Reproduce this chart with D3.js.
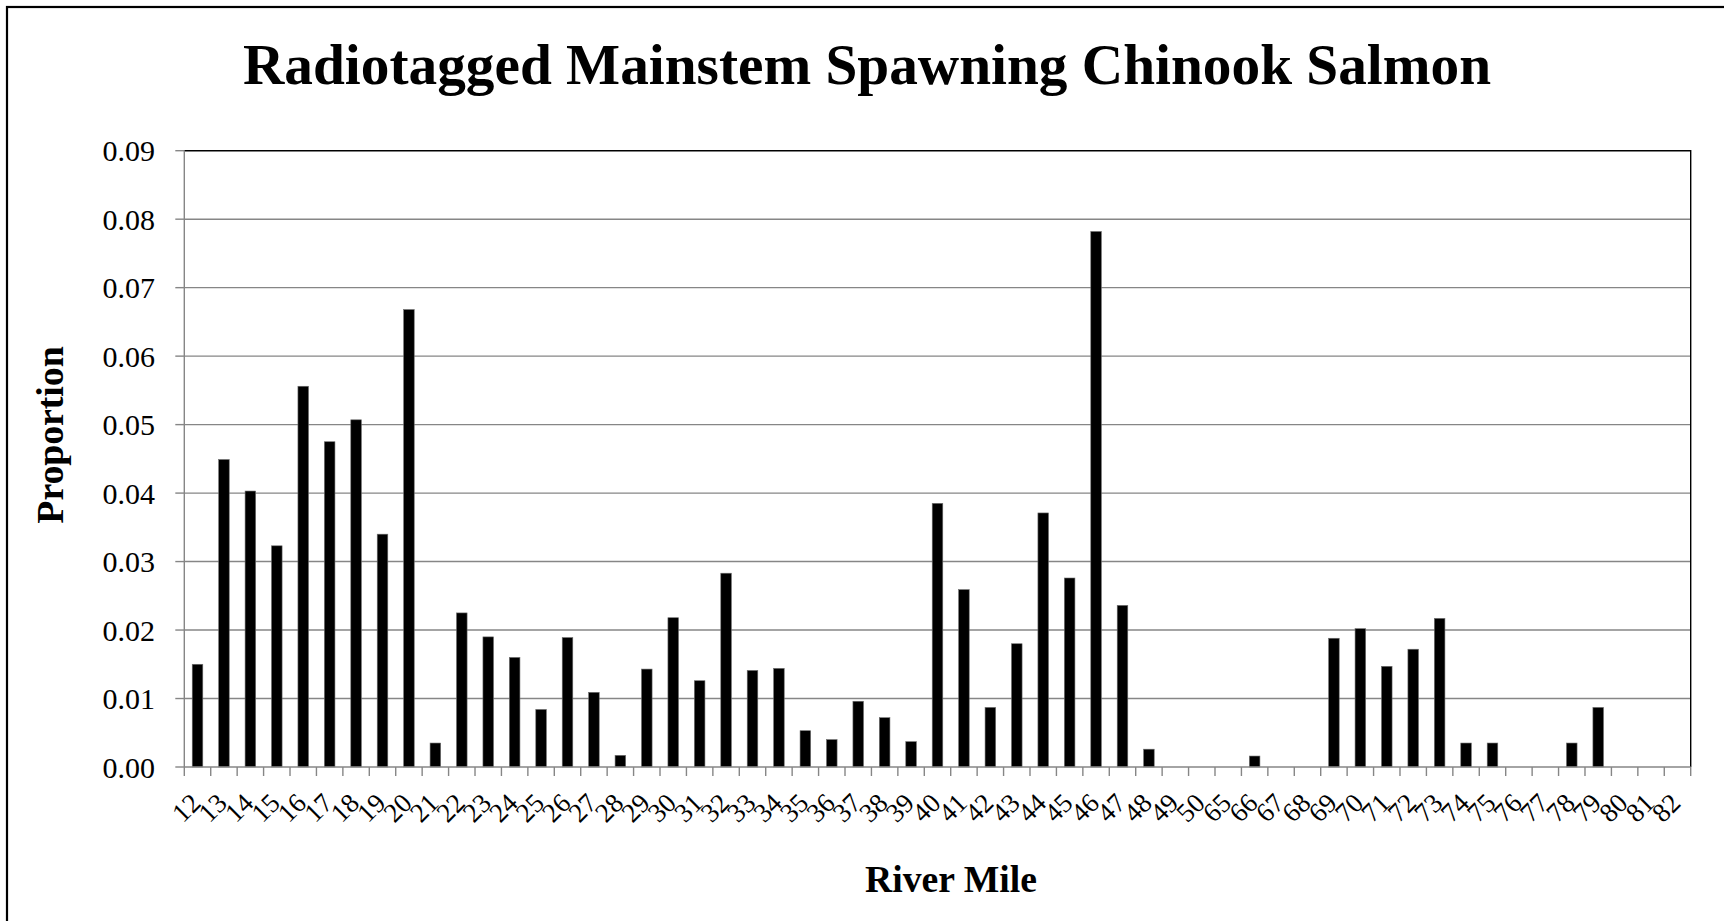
<!DOCTYPE html>
<html lang="en">

<head>
    <meta charset="UTF-8">
    <script src="https://cdnjs.cloudflare.com/ajax/libs/d3/7.8.5/d3.min.js" type="text/JavaScript"></script>
    <title>Radiotagged Mainstem Spawning Chinook Salmon</title>
    <style>
        body { margin: 0; background: #fff; }
        svg { display: block; }
        text { font-family: "Liberation Serif", "Times New Roman", serif; fill: #000; }
    </style>
</head>

<body>
    <svg width="1724" height="921"></svg>
    <script>
        const riverMiles = ["12", "13", "14", "15", "16", "17", "18", "19", "20", "21", "22", "23", "24", "25",
            "26", "27", "28", "29", "30", "31", "32", "33", "34", "35", "36", "37", "38", "39", "40", "41", "42",
            "43", "44", "45", "46", "47", "48", "49", "50", "65", "66", "67", "68", "69", "70", "71", "72", "73",
            "74", "75", "76", "77", "78", "79", "80", "81", "82"]

        const proportions = [0.0150, 0.0449, 0.0403, 0.0323, 0.0556, 0.0475, 0.0507, 0.0340, 0.0668, 0.0035,
            0.0225, 0.0190, 0.0160, 0.0084, 0.0189, 0.0109, 0.0017, 0.0143, 0.0218, 0.0126, 0.0283, 0.0141,
            0.0144, 0.0053, 0.0040, 0.0096, 0.0072, 0.0037, 0.0385, 0.0259, 0.0087, 0.0180, 0.0371, 0.0276,
            0.0782, 0.0236, 0.0026, 0, 0, 0, 0.0016, 0, 0, 0.0188, 0.0202, 0.0147, 0.0172, 0.0217,
            0.0035, 0.0035, 0, 0, 0.0035, 0.0087, 0, 0, 0]

        const yTicks = [0, 0.01, 0.02, 0.03, 0.04, 0.05, 0.06, 0.07, 0.08, 0.09]

        const titleText = "Radiotagged Mainstem Spawning Chinook Salmon"
        const xTitle = "River Mile"
        const yTitle = "Proportion"

        const plot = { left: 184.3, right: 1690.7, top: 150.7, bottom: 767 }
        const gridColor = "#868686"

        const svg = d3.select("svg")

        svg.append("rect")
            .attr("width", 1724).attr("height", 921)
            .style("fill", "#fff")

        // chart area border (runs off the right and bottom of the picture)
        svg.append("rect")
            .attr("x", 7).attr("y", 7)
            .attr("width", 1740).attr("height", 940)
            .style("fill", "none")
            .style("stroke", "#000")
            .style("stroke-width", 2.2)

        const x = d3.scaleBand()
            .domain(riverMiles)
            .range([plot.left, plot.right])
            .paddingInner(0.6)
            .paddingOuter(0.3)

        const y = d3.scaleLinear()
            .domain([0, 0.09])
            .range([plot.bottom, plot.top])

        const gap = (x.step() - x.bandwidth()) / 2

        // gridlines
        svg.append("g")
            .selectAll("line")
            .data(yTicks.slice(1, -1))
            .enter()
            .append("line")
            .attr("x1", plot.left).attr("x2", plot.right)
            .attr("y1", d => y(d)).attr("y2", d => y(d))
            .style("stroke", gridColor)
            .style("stroke-width", 1.4)

        // plot area border, top and right
        svg.append("path")
            .attr("d", `M${plot.left},${y(0.09)}H${plot.right}V${y(0)}`)
            .style("fill", "none")
            .style("stroke", "#000")
            .style("stroke-width", 1.4)

        // bars
        svg.append("g")
            .selectAll("rect")
            .data(riverMiles.map((m, i) => ({ mile: m, value: proportions[i] })))
            .enter()
            .append("rect")
            .attr("x", d => x(d.mile))
            .attr("width", x.bandwidth())
            .attr("y", d => y(d.value))
            .attr("height", d => y(0) - y(d.value))
            .style("fill", "#000")
            .style("stroke", "#6d6d6d")
            .style("stroke-width", 0.6)

        // y axis
        const yAxis = svg.append("g")
        yAxis.append("line")
            .attr("x1", plot.left).attr("x2", plot.left)
            .attr("y1", y(0.09)).attr("y2", y(0))
            .style("stroke", gridColor)
            .style("stroke-width", 1.4)

        yAxis.selectAll("line.tick")
            .data(yTicks)
            .enter()
            .append("line")
            .attr("class", "tick")
            .attr("x1", plot.left - 9).attr("x2", plot.left)
            .attr("y1", d => y(d)).attr("y2", d => y(d))
            .style("stroke", gridColor)
            .style("stroke-width", 1.4)

        yAxis.selectAll("text")
            .data(yTicks)
            .enter()
            .append("text")
            .attr("x", 155)
            .attr("y", d => y(d))
            .attr("dy", "0.35em")
            .style("text-anchor", "end")
            .style("font-size", "30px")
            .text(d => d3.format(".2f")(d))

        // x axis
        const xAxis = svg.append("g")
        xAxis.append("line")
            .attr("x1", plot.left).attr("x2", plot.right)
            .attr("y1", y(0)).attr("y2", y(0))
            .style("stroke", gridColor)
            .style("stroke-width", 1.4)

        const tickXs = riverMiles.map(m => x(m) - gap).concat([x(riverMiles[riverMiles.length - 1]) + x.bandwidth() + gap])

        xAxis.selectAll("line.tick")
            .data(tickXs)
            .enter()
            .append("line")
            .attr("class", "tick")
            .attr("x1", d => d).attr("x2", d => d)
            .attr("y1", y(0)).attr("y2", y(0) + 9)
            .style("stroke", gridColor)
            .style("stroke-width", 1.4)

        xAxis.selectAll("text")
            .data(riverMiles)
            .enter()
            .append("text")
            .attr("transform", d => `translate(${x(d) + x.bandwidth() / 2 - 2}, ${y(0) + 31}) rotate(-45)`)
            .attr("dy", "0.35em")
            .style("text-anchor", "end")
            .style("font-size", "27px")
            .text(d => d)

        // titles
        svg.append("text")
            .attr("x", 867).attr("y", 84)
            .style("text-anchor", "middle")
            .style("font-size", "57.3px")
            .style("font-weight", "bold")
            .text(titleText)

        svg.append("text")
            .attr("x", 951).attr("y", 892)
            .style("text-anchor", "middle")
            .style("font-size", "37.7px")
            .style("font-weight", "bold")
            .text(xTitle)

        svg.append("text")
            .attr("transform", "translate(63, 435) rotate(-90)")
            .style("text-anchor", "middle")
            .style("font-size", "37.7px")
            .style("font-weight", "bold")
            .text(yTitle)
    </script>
</body>

</html>
